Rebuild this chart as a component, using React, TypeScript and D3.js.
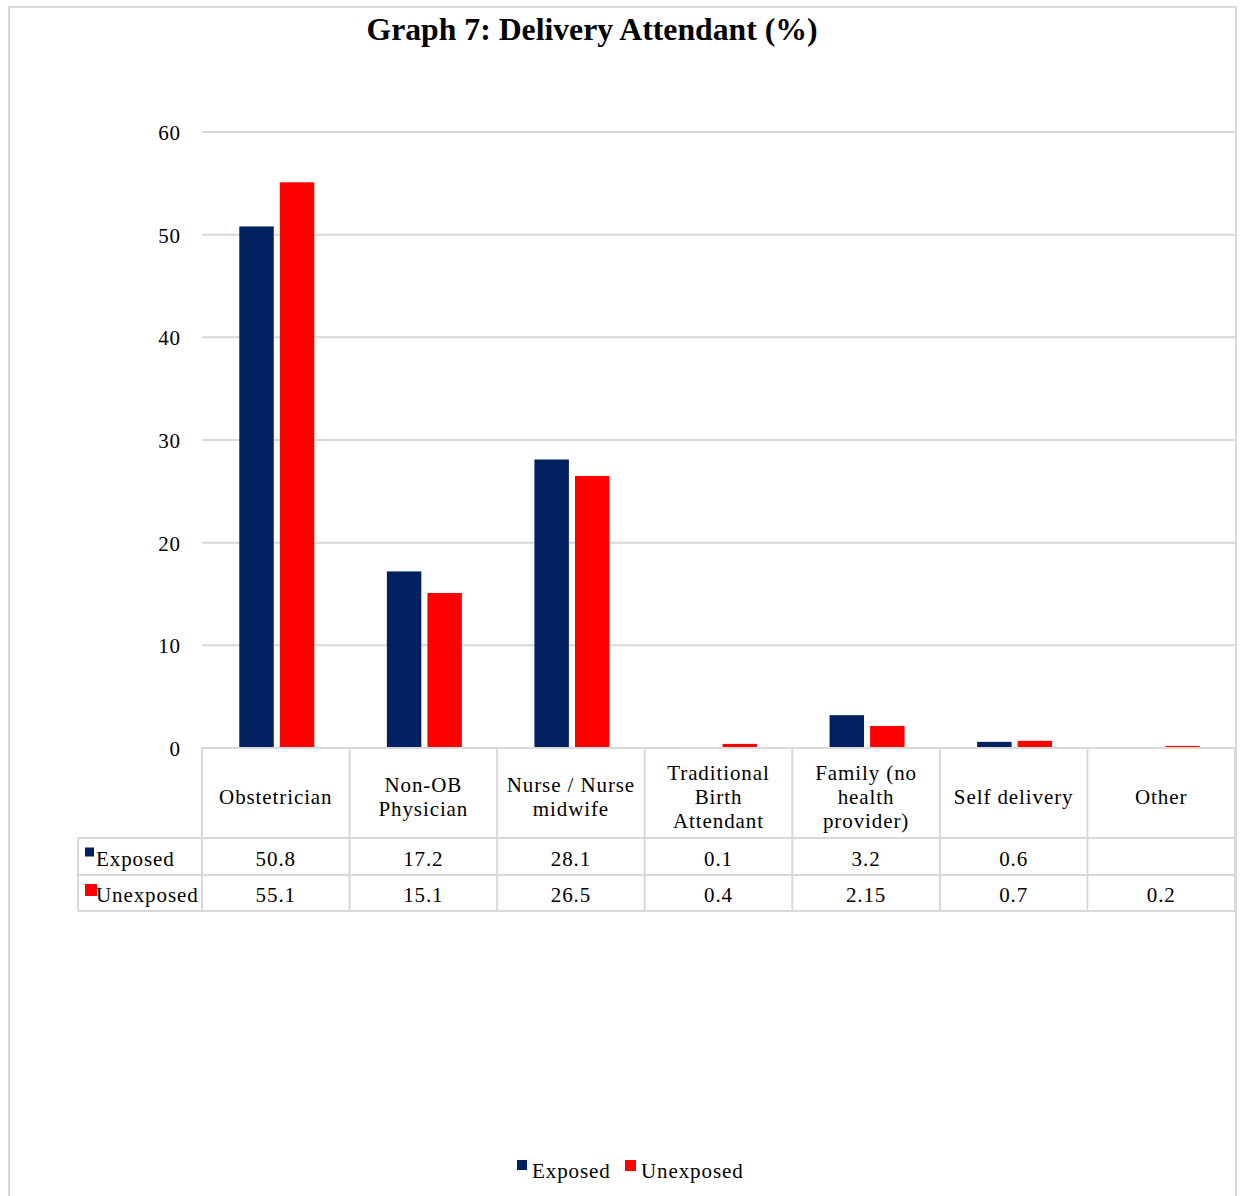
import React from "react";
import * as d3 from "d3";

const categories: string[][] = [
  ["Obstetrician"],
  ["Non-OB", "Physician"],
  ["Nurse / Nurse", "midwife"],
  ["Traditional", "Birth", "Attendant"],
  ["Family (no", "health", "provider)"],
  ["Self delivery"],
  ["Other"],
];
const exposed: (number | null)[] = [50.8, 17.2, 28.1, 0.1, 3.2, 0.6, null];
const unexposed: (number | null)[] = [55.1, 15.1, 26.5, 0.4, 2.15, 0.7, 0.2];
const exposedLabels = ["50.8", "17.2", "28.1", "0.1", "3.2", "0.6", ""];
const unexposedLabels = ["55.1", "15.1", "26.5", "0.4", "2.15", "0.7", "0.2"];
const seriesNames = ["Exposed", "Unexposed"];
const seriesColors = ["#002060", "#ff0000"];
const yTicks = [0, 10, 20, 30, 40, 50, 60];

const W = 1240;
const H = 1196;
const FONT = "'Liberation Serif', 'Times New Roman', serif";
const GRID = "#d9d9d9";
const LS = 0.9;

export default function App() {
  const plotLeft = 202;
  const plotRight = 1235;
  const y = d3.scaleLinear().domain([0, 60]).range([748, 132]);
  const x0 = d3
    .scaleBand<number>()
    .domain(categories.map((_, i) => i))
    .range([plotLeft, plotRight])
    .paddingInner(0)
    .paddingOuter(0);
  const groupW = 75;
  const x1 = d3
    .scaleBand<number>()
    .domain([0, 1])
    .range([0, groupW])
    .paddingInner(0.15)
    .paddingOuter(0);
  const series = [exposed, unexposed];
  const rowLabels = [exposedLabels, unexposedLabels];

  const headerTop = 748;
  const headerBottom = 838;
  const row1Bottom = 875;
  const row2Bottom = 911;
  const tableLeft = 78;
  const bw = x0.bandwidth();

  return (
    <svg
      width={W}
      height={H}
      style={{ position: "absolute", left: 0, top: 0, display: "block" }}
      fontFamily={FONT}
    >
      <rect x={0} y={0} width={W} height={H} fill="#fff" />
      {/* chart frame */}
      <rect x={9} y={7} width={1227} height={1200} fill="#fff" stroke={GRID} strokeWidth={2} />

      {/* title */}
      <text
        x={592}
        y={40}
        textAnchor="middle"
        fontSize={31}
        fontWeight="bold"
        textLength={451}
        lengthAdjust="spacingAndGlyphs"
        fill="#000"
      >
        Graph 7: Delivery Attendant (%)
      </text>

      {/* gridlines and y ticks */}
      {yTicks.map((t) => (
        <g key={t}>
          {t > 0 && (
            <line x1={plotLeft} x2={plotRight} y1={y(t)} y2={y(t)} stroke={GRID} strokeWidth={2} />
          )}
          <text x={181} y={y(t) + 8} textAnchor="end" fontSize={21} letterSpacing={LS} fill="#000">
            {t}
          </text>
        </g>
      ))}

      {/* bars */}
      {series.map((vals, s) =>
        vals.map((v, i) =>
          v == null ? null : (
            <rect
              key={`${s}-${i}`}
              x={(x0(i) as number) + (bw - groupW) / 2 + (x1(s) as number) + 1}
              y={y(v)}
              width={x1.bandwidth()}
              height={y(0) - y(v)}
              fill={seriesColors[s]}
            />
          )
        )
      )}

      {/* data table */}
      <g stroke={GRID} strokeWidth={2}>
        <line x1={plotLeft} x2={plotRight} y1={headerTop} y2={headerTop} />
        <line x1={tableLeft} x2={plotRight} y1={headerBottom} y2={headerBottom} />
        <line x1={tableLeft} x2={plotRight} y1={row1Bottom} y2={row1Bottom} />
        <line x1={tableLeft} x2={plotRight} y1={row2Bottom} y2={row2Bottom} />
        <line x1={tableLeft} x2={tableLeft} y1={headerBottom} y2={row2Bottom} />
        {categories.map((_, i) => (
          <line
            key={i}
            x1={x0(i) as number}
            x2={x0(i) as number}
            y1={headerTop}
            y2={row2Bottom}
          />
        ))}
        <line x1={plotRight} x2={plotRight} y1={headerTop} y2={row2Bottom} />
      </g>

      {/* category headers */}
      {categories.map((lines, i) => {
        const cx = (x0(i) as number) + bw / 2;
        const lh = 24;
        const mid = (headerTop + headerBottom) / 2 + 3;
        const start = mid - ((lines.length - 1) * lh) / 2 + 8;
        return (
          <text key={i} textAnchor="middle" fontSize={21} letterSpacing={LS} fill="#000">
            {lines.map((ln, k) => (
              <tspan key={k} x={cx} y={start + k * lh}>
                {ln}
              </tspan>
            ))}
          </text>
        );
      })}

      {/* table rows */}
      {rowLabels.map((labels, s) => {
        const top = s === 0 ? headerBottom : row1Bottom;
        const bottom = s === 0 ? row1Bottom : row2Bottom;
        const cy = (top + bottom) / 2 + 9;
        const sq = s === 0 ? 9 : 12;
        return (
          <g key={s}>
            <rect x={85} y={cy - 18} width={sq} height={sq} fill={seriesColors[s]} />
            <text x={96} y={cy} fontSize={21} letterSpacing={LS} fill="#000">
              {seriesNames[s]}
            </text>
            {labels.map((lb, i) => (
              <text
                key={i}
                x={(x0(i) as number) + bw / 2}
                y={cy}
                textAnchor="middle"
                fontSize={21}
                letterSpacing={LS}
                fill="#000"
              >
                {lb}
              </text>
            ))}
          </g>
        );
      })}

      {/* legend */}
      <g>
        <rect x={517} y={1160} width={10} height={10} fill={seriesColors[0]} />
        <text x={532} y={1178} fontSize={21} letterSpacing={LS} fill="#000">
          {seriesNames[0]}
        </text>
        <rect x={625} y={1160} width={11} height={11} fill={seriesColors[1]} />
        <text x={641} y={1178} fontSize={21} letterSpacing={LS} fill="#000">
          {seriesNames[1]}
        </text>
      </g>
    </svg>
  );
}
